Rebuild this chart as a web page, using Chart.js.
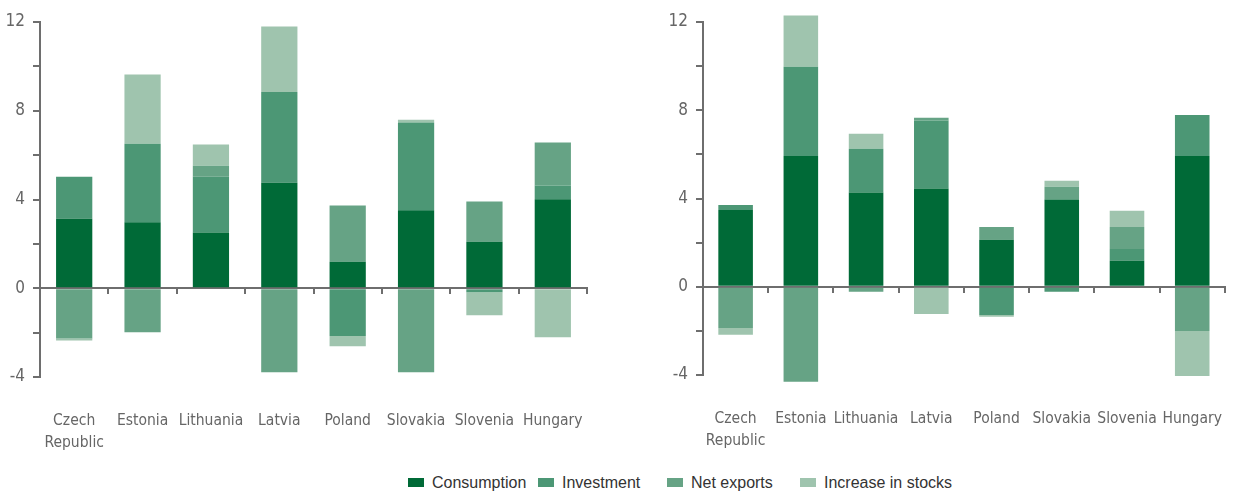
<!DOCTYPE html>
<html>
<head>
<meta charset="utf-8">
<script src="https://cdn.jsdelivr.net/npm/chart.js@4"></script>
<style>
  body { margin: 0; width: 1247px; height: 491px; background: #fff; position: relative; overflow: hidden; }
  canvas { position: absolute; top: 0; }
  #leftChart { left: 0; }
  #rightChart { left: 620px; }
  .leg { position: absolute; top: 474px; font: 16px "Liberation Sans", Arial, sans-serif; color: #333; line-height: 18px; white-space: nowrap; }
  .leg span { display: inline-block; width: 16px; height: 9px; margin-right: 8px; vertical-align: 1px; }
</style>
</head>
<body>
<canvas id="leftChart" width="620" height="460"></canvas>
<canvas id="rightChart" width="627" height="460"></canvas>
<div id="legend"></div>
<script>
const categories = [['Czech', 'Republic'], 'Estonia', 'Lithuania', 'Latvia', 'Poland', 'Slovakia', 'Slovenia', 'Hungary'];
const seriesNames = ['Consumption', 'Investment', 'Net exports', 'Increase in stocks'];
const seriesColors = ['#006a37', '#4c9775', '#66a385', '#9fc4ae'];

// left panel
const consumptionLeft = [3.13, 2.98, 2.51, 4.75, 1.2, 3.52, 2.1, 4.01];
const investmentLeft = [1.9, 3.53, 2.51, 4.09, -2.15, 3.95, -0.18, 0.62];
const netExportsLeft = [-2.27, -1.98, 0.5, -3.79, 2.53, -3.79, 1.81, 1.94];
const stocksLeft = [-0.08, 3.12, 0.96, 2.96, -0.46, 0.13, -1.04, -2.21];

// right panel
const consumptionRight = [3.48, 5.93, 4.27, 4.45, 2.13, 3.95, 1.18, 5.93];
const investmentRight = [0.23, 4.04, 1.99, 3.09, -1.28, -0.23, 0.53, 1.86];
const netExportsRight = [-1.87, -4.31, -0.23, 0.12, 0.58, 0.58, 1.0, -2.01];
const stocksRight = [-0.31, 2.32, 0.67, -1.23, -0.08, 0.27, 0.73, -2.04];

const yMin = -4, yMax = 12, yStep = 2, yLabelEvery = 4;

const axisGrey = '#6e6e6e';
const tickFont = { family: "'Liberation Sans Narrow', 'DejaVu Sans Condensed', sans-serif", size: 15.5, lineHeight: 1.4 };

function makeChart(id, series, yWidth, padRight, xHeight) {
  const datasets = series.map((vals, i) => ({
    label: seriesNames[i],
    data: vals,
    backgroundColor: seriesColors[i],
    borderWidth: 0,
    clip: false,
    xAxisID: 'x'
  }));
  new Chart(document.getElementById(id), {
    type: 'bar',
    data: { labels: categories, datasets: datasets },
    options: {
      responsive: false,
      animation: false,
      categoryPercentage: 0.53,
      barPercentage: 1,
      layout: { padding: { top: 22, right: padRight, left: 0, bottom: 0 } },
      plugins: { legend: { display: false }, tooltip: { enabled: false } },
      scales: {
        x: {
          stacked: true,
          grid: { display: false },
          border: { display: false },
          ticks: { color: '#666', font: tickFont, padding: 25, maxRotation: 0, autoSkip: false },
          afterFit: s => { s.height = xHeight; }
        },
        x2: {
          type: 'category',
          labels: categories,
          position: { y: 0 },
          offset: true,
          grid: { offset: true, drawOnChartArea: false, drawTicks: true, tickLength: 5, color: axisGrey, lineWidth: 2 },
          border: { color: axisGrey, width: 2 },
          ticks: { display: false }
        },
        y: {
          stacked: true,
          min: yMin,
          max: yMax,
          grid: { drawOnChartArea: false, tickLength: 7, color: axisGrey, lineWidth: 2 },
          border: { color: axisGrey, width: 2 },
          ticks: {
            stepSize: yStep,
            color: '#666',
            font: Object.assign({}, tickFont, { size: 17 }),
            padding: 8,
            callback: v => (v % yLabelEvery === 0 ? String(v) : '')
          },
          afterFit: s => { s.width = yWidth; }
        }
      }
    }
  });
}

makeChart('leftChart', [consumptionLeft, investmentLeft, netExportsLeft, stocksLeft], 40, 33, 83);
makeChart('rightChart', [consumptionRight, investmentRight, netExportsRight, stocksRight], 83, 0, 85);

// legend
const legendX = [408, 538, 667, 800];
const legend = document.getElementById('legend');
seriesNames.forEach((name, i) => {
  const d = document.createElement('div');
  d.className = 'leg';
  d.style.left = legendX[i] + 'px';
  d.innerHTML = '<span style="background:' + seriesColors[i] + '"></span>' + name;
  legend.appendChild(d);
});
</script>
</body>
</html>
